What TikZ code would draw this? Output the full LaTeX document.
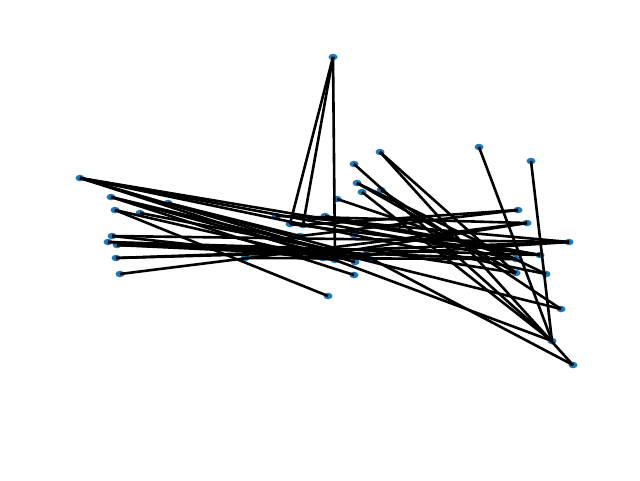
\documentclass[tikz,border=0pt]{standalone}
\usetikzlibrary{shapes.geometric}
\begin{document}
\begin{tikzpicture}[x=1pt,y=-1pt,
  vtx/.style={ellipse,fill={rgb,255:red,31;green,119;blue,180},minimum width=9pt,minimum height=6.5pt,inner sep=0pt},
  edge/.style={line width=2.6pt,black}]
\useasboundingbox (0,0) rectangle (640,480);
\foreach \n/\x/\y in {1/80/178,2/111/197,3/115/210,4/112/236,5/108/242,6/117/245,7/116/258,8/120/274,9/140/213,10/168/203,11/245/258,12/333/57,13/276/216,14/290/224,15/307/218,16/303/225,17/300/236,18/325/216,19/337/199,20/328/296,21/354/275,22/354/235,23/332/252,24/340/252,25/323/258,26/335/260,27/355/262,28/367/250,29/368/257,30/380/152,31/354/164,32/357/183,33/362/192,34/381/190,35/479/147,36/531/161,37/518/210,38/527/223,39/569/242,40/540/255,41/516/259,42/516/273,43/546/274,44/561/309,45/552/341,46/573/365}
  {\node[vtx] (n\n) at (\x,\y) {};}
\foreach \a/\b in {12/14,12/16,12/26,1/22,1/40,1/41,1/23,1/26,2/21,2/24,2/27,3/20,3/25,9/29,10/29,10/17,4/39,4/26,5/40,5/23,6/29,6/28,6/41,7/39,7/24,8/38,13/38,18/40,19/41,30/46,30/42,31/45,32/43,32/42,33/45,34/44,35/45,36/45,44/23,29/46,26/45,17/37,24/38,15/39,11/41,22/43,28/42,25/39,14/40,16/37}
  {\draw[edge] (n\a.center) -- (n\b.center);}
\end{tikzpicture}
\end{document}
